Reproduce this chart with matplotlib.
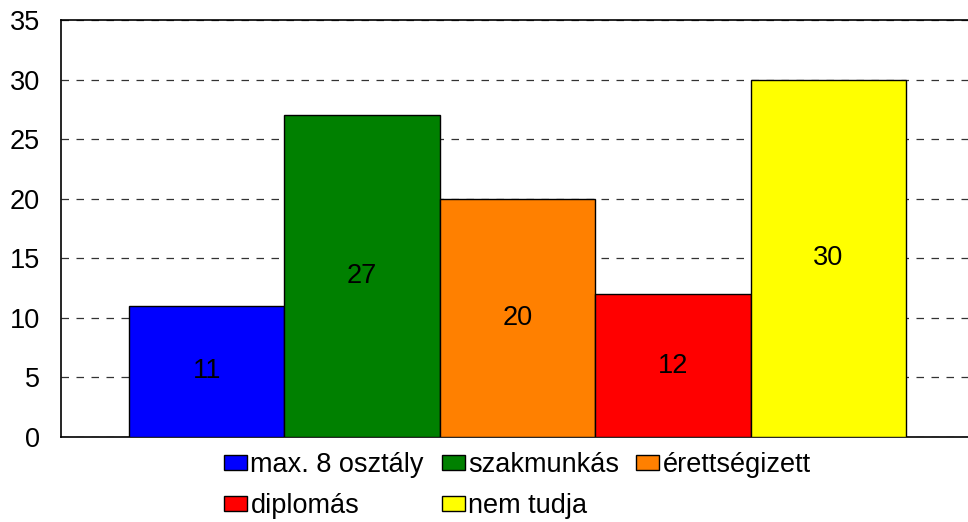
import matplotlib.pyplot as plt

plt.rcParams["font.family"] = ["Liberation Sans", "DejaVu Sans"]

# --- data -------------------------------------------------
kategoriak = ["max. 8 osztály", "szakmunkás", "érettségizett", "diplomás", "nem tudja"]
ertekek = [11, 27, 20, 12, 30]
szinek = ["#0000FF", "#008000", "#FF8000", "#FF0000", "#FFFF00"]
y_tickek = [0, 5, 10, 15, 20, 25, 30, 35]

# --- chart ------------------------------------------------
fig = plt.figure(figsize=(9.68, 5.22), dpi=100)
ax = fig.add_axes([61 / 968, 85 / 522, 913 / 968, 417 / 522])

x = list(range(len(ertekek)))
bars = ax.bar(x, ertekek, width=1.0, color=szinek, edgecolor="black",
              linewidth=1, zorder=3)

for b, v in zip(bars, ertekek):
    ax.text(b.get_x() + b.get_width() / 2, v / 2, str(v), ha="center",
            va="center", fontsize=19.5, zorder=4)

ax.set_xlim(-0.5 - 0.4376, len(ertekek) - 0.5 + 0.4376)
ax.set_ylim(0, 35)
ax.set_yticks(y_tickek)
ax.tick_params(axis="y", length=0, labelsize=19.5, pad=15)
ax.set_xticks([])
ax.yaxis.grid(True, linestyle=(0, (6, 6)), color="#333333", linewidth=0.9, zorder=0)
for s in ax.spines.values():
    s.set_linewidth(1.2)

# legend row by row (matplotlib fills column by column)
volgorde = [0, 3, 1, 4, 2]
ax.legend([bars[i] for i in volgorde], [kategoriak[i] for i in volgorde],
          loc="upper center", bbox_to_anchor=(0.5, -0.01),
          ncol=3, frameon=False, fontsize=19.5, handlelength=0.85, handleheight=0.45,
          handletextpad=0.12, columnspacing=0.65, labelspacing=0.55,
          borderaxespad=0)

plt.savefig("out.png", dpi=100)
